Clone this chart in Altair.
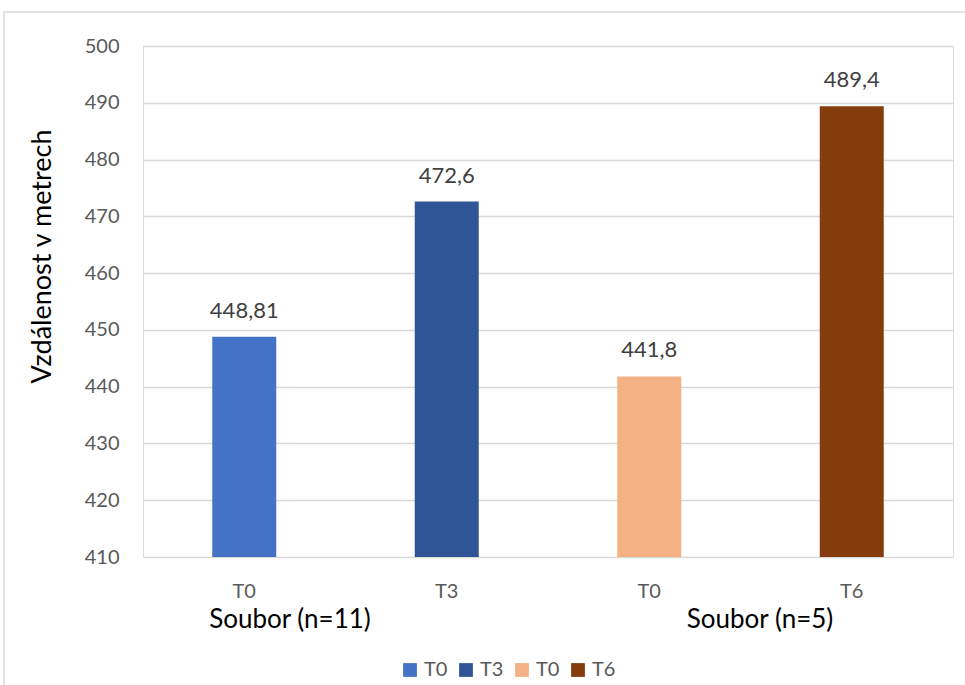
import altair as alt
import pandas as pd

# Bars: one per measurement, grouped by cohort
keys = ["T0a", "T3", "T0b", "T6"]
labels = ["T0", "T3", "T0", "T6"]
values = [448.81, 472.6, 441.8, 489.4]
colors = ["#4472C4", "#2F5597", "#F4B183", "#843C0C"]
groups = ["Soubor (n=11)", "Soubor (n=5)"]

FONT = "Lato"
W, H = 810, 511
LEFT, TOP = 143, 46

df = pd.DataFrame({"key": keys, "label": labels, "value": values})
df["text"] = [str(v).replace(".", ",") for v in values]

label_expr = "replace(datum.label, /[ab]$/, '')"

x = alt.X(
    "key:N",
    sort=keys,
    scale=alt.Scale(paddingInner=0.684, paddingOuter=0.342),
    axis=alt.Axis(
        title=None, labelExpr=label_expr, labelAngle=0, ticks=False, domain=False,
        labelFont=FONT, labelFontSize=20, labelColor="#595959", labelPadding=24,
    ),
)
y_scale = alt.Scale(domain=[410, 500], zero=False, nice=False)

bars = alt.Chart(df).mark_bar(clip=True).encode(
    x=x,
    y=alt.Y(
        "value:Q",
        scale=y_scale,
        axis=alt.Axis(
            title="Vzdálenost v metrech", values=list(range(410, 501, 10)),
            ticks=False, domain=False, grid=True, gridColor="#D9D9D9", gridWidth=1.3,
            labelFont=FONT, labelFontSize=20, labelColor="#595959", labelPadding=24,
            titleFont=FONT, titleFontSize=27, titleFontWeight="normal",
            titleColor="#000000", titlePadding=28, titleY=210,
        ),
    ),
    y2=alt.datum(410),
    color=alt.Color(
        "key:N",
        sort=keys,
        scale=alt.Scale(domain=keys, range=colors),
        legend=alt.Legend(
            title=None, orient="none", direction="horizontal",
            legendX=257, legendY=614, labelExpr=label_expr,
            symbolType="square", symbolSize=190, symbolStrokeWidth=0,
            labelFont=FONT, labelFontSize=20, labelColor="#595959",
            columnPadding=8, labelOffset=4,
        ),
    ),
)

value_text = alt.Chart(df).mark_text(
    baseline="bottom", dy=-14, font=FONT, fontSize=22, color="#404040"
).encode(
    x=alt.X("key:N", sort=keys, axis=None),
    y=alt.Y("value:Q", scale=y_scale),
    text="text:N",
)

group_df = pd.DataFrame({"group": groups, "px": [147, 617]})
group_text = alt.Chart(group_df).mark_text(
    baseline="middle", align="center", font=FONT, fontSize=26, color="#000000"
).encode(x=alt.X("px:Q", scale=None), y=alt.value(H + 63), text="group:N")

frame_df = pd.DataFrame({"x0": [4 - LEFT], "y0": [12 - TOP], "x1": [1000 - LEFT], "y1": [720 - TOP]})
frame = alt.Chart(frame_df).mark_rect(
    fill=None, stroke="#D9D9D9", strokeWidth=1.5, clip=False
).encode(
    x=alt.X("x0:Q", scale=None), x2="x1:Q",
    y=alt.Y("y0:Q", scale=None), y2="y1:Q",
)

chart = alt.layer(frame, bars, value_text, group_text).resolve_scale(
    x="independent"
).properties(
    width=W, height=H,
    autosize=alt.AutoSizeParams(type="none"),
    padding={"left": LEFT, "top": TOP, "right": 965 - LEFT - W, "bottom": 685 - TOP - H},
).configure_view(strokeWidth=0).configure(background="white")

chart.save("out.html", embed_options={"renderer": "svg", "actions": False})
